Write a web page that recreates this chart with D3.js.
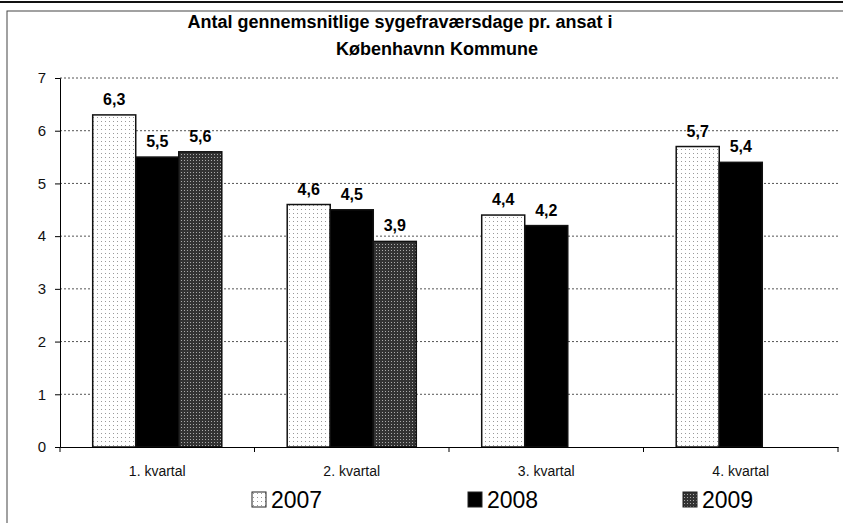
<!DOCTYPE html>
<html>
<head>
<meta charset="utf-8">
<script src="https://cdnjs.cloudflare.com/ajax/libs/d3/7.8.5/d3.min.js"></script>
<style>
  body { margin: 0; background: #fff; }
  text { font-family: "Liberation Sans", Arial, sans-serif; }
</style>
</head>
<body>
<div class="chart"></div>
<script>
var width = 843
var height = 523

var quarters = ['1. kvartal', '2. kvartal', '3. kvartal', '4. kvartal']
var years = ['2007', '2008', '2009']
var values2007 = [6.3, 4.6, 4.4, 5.7]
var values2008 = [5.5, 4.5, 4.2, 5.4]
var values2009 = [5.6, 3.9, null, null]
var yTicks = [0, 1, 2, 3, 4, 5, 6, 7]
var titleLines = ['Antal gennemsnitlige sygefraværsdage pr. ansat i', 'Københavnn Kommune']

var series = [values2007, values2008, values2009]
var fills = ['url(#dots2007)', '#000', 'url(#dots2009)']

var svg = d3.select('.chart').append('svg')
    .attr('width', width)
    .attr('height', height)

// patterns for the scanned-looking fills
var defs = svg.append('defs')
var p1 = defs.append('pattern').attr('id', 'dots2007')
    .attr('width', 4).attr('height', 4).attr('patternUnits', 'userSpaceOnUse')
p1.append('rect').attr('width', 4).attr('height', 4).attr('fill', '#fff')
p1.append('rect').attr('x', 1).attr('y', 1).attr('width', 1).attr('height', 1).attr('fill', '#999')
var p3 = defs.append('pattern').attr('id', 'dots2009')
    .attr('width', 3).attr('height', 3).attr('patternUnits', 'userSpaceOnUse')
p3.append('rect').attr('width', 3).attr('height', 3).attr('fill', '#333')
p3.append('rect').attr('x', 1).attr('y', 1).attr('width', 1).attr('height', 1).attr('fill', '#aaa')

// outer frame
svg.append('rect')
    .attr('x', 7).attr('y', 11)
    .attr('width', width - 6).attr('height', height - 5)
    .attr('fill', 'none').attr('stroke', '#444').attr('stroke-width', 1)
svg.append('line')
    .attr('x1', 0).attr('x2', width).attr('y1', 2).attr('y2', 2)
    .attr('stroke', '#111').attr('stroke-width', 2)

var plotLeft = 60, plotRight = 838, plotTop = 78, plotBottom = 447

var x = d3.scaleBand().domain(quarters).range([plotLeft, plotRight])
var xs = d3.scaleBand().domain(years).range([0, x.bandwidth()]).paddingOuter(0.76).paddingInner(0)
var y = d3.scaleLinear().domain([0, 7]).range([plotBottom, plotTop])

// gridlines
svg.append('g').selectAll('line')
    .data(yTicks.filter(function (d) { return d > 0 }))
    .enter().append('line')
    .attr('x1', plotLeft).attr('x2', plotRight)
    .attr('y1', function (d) { return y(d) }).attr('y2', function (d) { return y(d) })
    .attr('stroke', '#555').attr('stroke-dasharray', '2,2').attr('stroke-width', 1)

// y axis
var yAxis = svg.append('g')
    .attr('transform', 'translate(' + plotLeft + ',0)')
    .call(d3.axisLeft(y).tickValues(yTicks).tickSize(5).tickFormat(d3.format('d')))
yAxis.select('.domain').attr('stroke', '#000')
yAxis.selectAll('.tick line').attr('stroke', '#000')
yAxis.selectAll('text').attr('font-size', 15).attr('fill', '#111').attr('dx', -6)

// bars
years.forEach(function (yr, i) {
    var g = svg.append('g')
    var data = quarters.map(function (q, j) { return { q: q, v: series[i][j] } })
        .filter(function (d) { return d.v != null })
    g.selectAll('rect')
        .data(data)
        .enter().append('rect')
        .attr('x', function (d) { return x(d.q) + xs(yr) })
        .attr('y', function (d) { return y(d.v) })
        .attr('width', xs.bandwidth())
        .attr('height', function (d) { return y(0) - y(d.v) })
        .attr('fill', fills[i])
        .attr('stroke', '#111').attr('stroke-width', 1.5)
    g.selectAll('text')
        .data(data)
        .enter().append('text')
        .attr('x', function (d) { return x(d.q) + xs(yr) + xs.bandwidth() / 2 })
        .attr('y', function (d) { return y(d.v) - 10 })
        .attr('text-anchor', 'middle')
        .attr('font-size', 16).attr('font-weight', 'bold')
        .text(function (d) { return String(d.v).replace('.', ',') })
})

// x axis
var xAxis = svg.append('g')
    .attr('transform', 'translate(0,' + plotBottom + ')')
    .call(d3.axisBottom(x).tickSize(0).tickPadding(19))
xAxis.select('.domain').attr('stroke', '#000')
xAxis.selectAll('text').attr('font-size', 14).attr('fill', '#111')
svg.append('g').selectAll('line')
    .data(quarters.concat(['end']))
    .enter().append('line')
    .attr('x1', function (d, i) { return plotLeft + i * x.step() })
    .attr('x2', function (d, i) { return plotLeft + i * x.step() })
    .attr('y1', plotBottom).attr('y2', plotBottom + 5)
    .attr('stroke', '#000')

// title (the wrapped lines sit a bit off-centre in the original)
svg.append('g').selectAll('text')
    .data(titleLines)
    .enter().append('text')
    .attr('x', function (d, i) { return i === 0 ? 400 : 437 })
    .attr('y', function (d, i) { return 28 + i * 27 })
    .attr('text-anchor', 'middle')
    .attr('font-size', 18).attr('font-weight', 'bold')
    .text(function (d) { return d })

// legend
var legendX = [252, 468, 683]
var lg = svg.append('g').selectAll('g')
    .data(years)
    .enter().append('g')
    .attr('transform', function (d, i) { return 'translate(' + legendX[i] + ',508)' })
lg.append('rect')
    .attr('x', 0).attr('y', -16).attr('width', 14).attr('height', 15)
    .attr('fill', function (d, i) { return fills[i] })
    .attr('stroke', '#222')
lg.append('text')
    .attr('x', 19).attr('y', 0)
    .attr('font-size', 23)
    .text(function (d) { return d })
</script>
</body>
</html>
